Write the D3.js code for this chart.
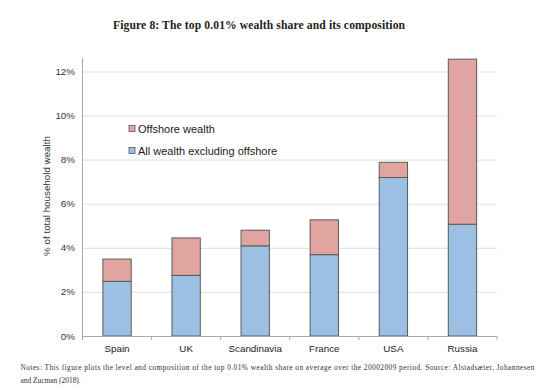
<!DOCTYPE html>
<html>
<head>
<meta charset="utf-8">
<script src="https://cdn.jsdelivr.net/npm/d3@7"></script>
<style>
  body { margin: 0; background: #fff; }
  svg { display: block; }
</style>
</head>
<body>
<svg width="560" height="390"></svg>
<script>
var countries = ["Spain", "UK", "Scandinavia", "France", "USA", "Russia"];
var excludingOffshore = [2.48, 2.75, 4.09, 3.69, 7.19, 5.07];
var offshore = [1.01, 1.70, 0.71, 1.58, 0.69, 7.49];
var yTicks = [0, 2, 4, 6, 8, 10, 12];
var seriesNames = ["Offshore wealth", "All wealth excluding offshore"];
var seriesColors = ["#e0a4a1", "#9cbfe4"];

var svg = d3.select("svg"),
    width = +svg.attr("width"),
    height = +svg.attr("height");

var left = 82.5, right = 497, bottom = 336, top12 = 71.5;

var x = d3.scaleBand()
    .domain(countries)
    .range([left, right])
    .paddingInner(0.59)
    .paddingOuter(0.295);

var y = d3.scaleLinear()
    .domain([0, 12])
    .range([bottom, top12]);

// title
svg.append("text")
    .attr("x", 259)
    .attr("y", 29)
    .attr("text-anchor", "middle")
    .attr("font-family", "Liberation Serif, serif")
    .attr("font-weight", "bold")
    .attr("font-size", 11.6)
    .attr("textLength", 292)
    .attr("lengthAdjust", "spacing")
    .attr("fill", "#222")
    .text("Figure 8: The top 0.01% wealth share and its composition");

// gridlines
svg.selectAll(".grid")
    .data(yTicks.filter(function(d) { return d > 0; }))
    .enter().append("line")
    .attr("class", "grid")
    .attr("x1", left)
    .attr("x2", right)
    .attr("y1", function(d) { return y(d) + 0.5; })
    .attr("y2", function(d) { return y(d) + 0.5; })
    .attr("stroke", "#e4e4e4")
    .attr("stroke-width", 1.2);

// y tick labels
svg.selectAll(".ylab")
    .data(yTicks)
    .enter().append("text")
    .attr("class", "ylab")
    .attr("x", 75)
    .attr("y", function(d) { return y(d) + 3.5; })
    .attr("text-anchor", "end")
    .attr("font-family", "Liberation Sans, Arial, sans-serif")
    .attr("font-size", 9.8)
    .attr("fill", "#333")
    .text(function(d) { return d + "%"; });

// y axis title
svg.append("text")
    .attr("transform", "translate(50,196) rotate(-90)")
    .attr("text-anchor", "middle")
    .attr("font-family", "Liberation Sans, Arial, sans-serif")
    .attr("font-size", 9.8)
    .attr("fill", "#333")
    .text("% of total household wealth");

// stacked bars
var rows = countries.map(function(c, i) {
    return { country: c, excl: excludingOffshore[i], off: offshore[i] };
});
var stack = d3.stack().keys(["excl", "off"]);
var layers = stack(rows);
var layerColor = { excl: seriesColors[1], off: seriesColors[0] };

svg.selectAll(".layer")
    .data(layers)
    .enter().append("g")
    .attr("class", "layer")
    .attr("fill", function(d) { return layerColor[d.key]; })
    .selectAll("rect")
    .data(function(d) { return d; })
    .enter().append("rect")
    .attr("x", function(d) { return x(d.data.country); })
    .attr("y", function(d) { return y(d[1]); })
    .attr("width", x.bandwidth())
    .attr("height", function(d) { return y(d[0]) - y(d[1]); })
    .attr("stroke", "#5a5a5a")
    .attr("stroke-width", 1);

// axes lines
svg.append("line")
    .attr("x1", left).attr("x2", left)
    .attr("y1", 58).attr("y2", bottom + 0.5)
    .attr("stroke", "#aaa");
svg.append("line")
    .attr("x1", left).attr("x2", right)
    .attr("y1", bottom + 0.5).attr("y2", bottom + 0.5)
    .attr("stroke", "#aaa");

var step = x.step();
svg.selectAll(".xtick")
    .data(d3.range(countries.length + 1))
    .enter().append("line")
    .attr("class", "xtick")
    .attr("x1", function(i) { return left + i * step; })
    .attr("x2", function(i) { return left + i * step; })
    .attr("y1", bottom)
    .attr("y2", bottom + 4)
    .attr("stroke", "#aaa");

// x labels
svg.selectAll(".xlab")
    .data(countries)
    .enter().append("text")
    .attr("class", "xlab")
    .attr("x", function(d) { return x(d) + x.bandwidth() / 2; })
    .attr("y", 352)
    .attr("text-anchor", "middle")
    .attr("font-family", "Liberation Sans, Arial, sans-serif")
    .attr("font-size", 9.8)
    .attr("fill", "#222")
    .text(function(d) { return d; });

// legend
var legend = svg.selectAll(".legend")
    .data(seriesNames)
    .enter().append("g")
    .attr("class", "legend")
    .attr("transform", function(d, i) { return "translate(129," + (125.5 + i * 22) + ")"; });
legend.append("rect")
    .attr("width", 6)
    .attr("height", 6)
    .attr("fill", function(d, i) { return seriesColors[i]; })
    .attr("stroke", "#555")
    .attr("stroke-width", 0.8);
legend.append("text")
    .attr("x", 9)
    .attr("y", 7)
    .attr("font-family", "Liberation Sans, Arial, sans-serif")
    .attr("font-size", 11)
    .attr("fill", "#222")
    .text(function(d) { return d; });

// notes
var notes = svg.append("text")
    .attr("font-family", "Liberation Serif, serif")
    .attr("font-size", 7.4)
    .attr("fill", "#333");
notes.append("tspan")
    .attr("x", 20.5).attr("y", 370)
    .attr("textLength", 514)
    .attr("lengthAdjust", "spacing")
    .text("Notes: This figure plots the level and composition of the top 0.01% wealth share on average over the 20002009 period. Source: Alstadsæter, Johannesen");
notes.append("tspan")
    .attr("x", 20.5).attr("y", 383)
    .text("and Zucman (2018).");
</script>
</body>
</html>
